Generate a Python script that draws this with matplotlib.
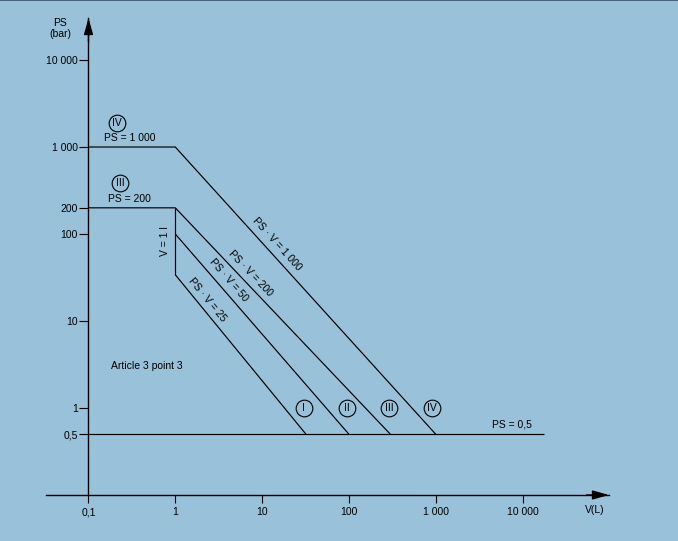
import numpy as np
import matplotlib
matplotlib.use('Agg')
import matplotlib.pyplot as plt
from matplotlib.transforms import offset_copy
from matplotlib.patches import Rectangle

plt.rcParams['font.family'] = ['Liberation Sans', 'DejaVu Sans']

# ---------------- data ----------------
x_ticks = [0.1, 1, 10, 100, 1000, 10000]
x_tick_labels = ['0,1', '1', '10', '100', '1 000', '10 000']
y_ticks = [0.5, 1, 10, 100, 200, 1000, 10000]
y_tick_labels = ['0,5', '1', '10', '100', '200', '1 000', '10 000']

cat_iv_v = [0.1, 1, 1000]
cat_iv_ps = [1000, 1000, 0.5]
cat_iii_v = [0.1, 1, 300]
cat_iii_ps = [200, 200, 0.5]
cat_ii_v = [1, 100]
cat_ii_ps = [100, 0.5]
cat_i_v = [1, 32]
cat_i_ps = [34, 0.5]
v1_line_v = [1, 1]
v1_line_ps = [200, 34]
ps_min_v = [0.1, 17500]
ps_min_ps = [0.5, 0.5]

diag_labels = ['PS · V = 1 000', 'PS · V = 200', 'PS · V = 50', 'PS · V = 25']
diag_anchor_v = [12.1, 6.2, 3.39, 1.94]

circle_labels = ['I', 'II', 'III', 'IV']
circle_v = [30, 96, 290, 900]
circle_ps = [1, 1, 1, 1]

# ---------------- figure ----------------
BG = '#9AC1DA'
W, H = 678, 541
fig = plt.figure(figsize=(W / 100, H / 100), dpi=100, facecolor=BG)
ax = fig.add_axes([46 / W, (H - 495) / H, 563 / W, 477 / H])
ax.set_facecolor(BG)
ax.set_xscale('log')
ax.set_yscale('log')
ax.set_xlim(10 ** -1.4896, 10 ** 4.9965)
ax.set_ylim(0.1, 10 ** 4.483)

for s in ['top', 'right']:
    ax.spines[s].set_visible(False)
ax.spines['left'].set_position(('data', 0.1))
ax.spines['left'].set_linewidth(1.0)
ax.spines['bottom'].set_linewidth(1.0)

ax.set_xticks(x_ticks, x_tick_labels)
ax.set_yticks(y_ticks, y_tick_labels)
ax.minorticks_off()
ax.tick_params(axis='x', direction='out', length=5.8, width=0.8, pad=3, labelsize=7.5)
ax.tick_params(axis='y', direction='out', length=6.8, width=0.8, pad=1, labelsize=7.5)

# arrow heads
arrow = dict(arrowstyle='-|>,head_length=1.0,head_width=0.28', color='k', lw=1.0,
             shrinkA=0, shrinkB=0, mutation_scale=10)
ax.annotate('', xy=(1, 0), xytext=(0.96, 0), xycoords='axes fraction', arrowprops=arrow,
            annotation_clip=False)
ax.annotate('', xy=(0.1, 1), xytext=(0.1, 0.95),
            xycoords=('data', 'axes fraction'), arrowprops=arrow, annotation_clip=False)

lw = 0.85
for vs, ps in [(cat_iv_v, cat_iv_ps), (cat_iii_v, cat_iii_ps), (cat_ii_v, cat_ii_ps),
               (cat_i_v, cat_i_ps), (v1_line_v, v1_line_ps), (ps_min_v, ps_min_ps)]:
    ax.plot(vs, ps, color='k', lw=lw, solid_capstyle='butt', clip_on=False)

FS = 7.5


def seg_angle(v0, p0, v1, p1):
    a = ax.transData.transform([(v0, p0), (v1, p1)])
    d = a[1] - a[0]
    return np.degrees(np.arctan2(d[1], d[0]))


diag_segs = [(cat_iv_v[-2:], cat_iv_ps[-2:]), (cat_iii_v[-2:], cat_iii_ps[-2:]),
             (cat_ii_v, cat_ii_ps), (cat_i_v, cat_i_ps)]
diag_off_px = [10.2, 9.5, 10.0, 8.5]
for lab, v, (vs, ps), dpx in zip(diag_labels, diag_anchor_v, diag_segs, diag_off_px):
    p = 10 ** np.interp(np.log10(v), np.log10(vs), np.log10(ps))
    ang = seg_angle(vs[0], ps[0], vs[1], ps[1])
    r = np.radians(ang)
    nx, ny = -np.sin(r), np.cos(r)
    d = dpx * 0.72
    ax.annotate(lab, xy=(v, p), xytext=(nx * d, ny * d), textcoords='offset points',
                rotation=ang, rotation_mode='anchor', ha='center', va='center', fontsize=FS)


def circled(label, v, p, dy_pt=0.0):
    tr = offset_copy(ax.transData, fig=fig, x=0, y=dy_pt, units='points')
    ax.plot([v], [p], 'o', ms=12, mfc='none', mec='k', mew=0.8, transform=tr, clip_on=False)
    ax.text(v, p, label, transform=tr, ha='center', va='center', fontsize=7.5)


for lab, v, p in zip(circle_labels, circle_v, circle_ps):
    circled(lab, v, p)

circled('IV', 0.213, 1000, 17.3)
circled('III', 0.231, 200, 18.0)

ax.annotate('PS = 1 000', xy=(0.30, 1000), xytext=(0, 6.5), textcoords='offset points',
            ha='center', va='center', fontsize=FS)
ax.annotate('PS = 200', xy=(0.30, 200), xytext=(0, 6.5), textcoords='offset points',
            ha='center', va='center', fontsize=FS)
ax.annotate('PS = 0,5', xy=(7570, 0.5), xytext=(0, 6.7), textcoords='offset points',
            ha='center', va='center', fontsize=FS)
ax.annotate('V = 1 l', xy=(1, np.sqrt(v1_line_ps[0] * v1_line_ps[1])), xytext=(-7.6, 0),
            textcoords='offset points', rotation=90, ha='center', va='center', fontsize=FS)
ax.text(0.18, 3.0, 'Article 3 point 3', ha='left', va='center', fontsize=FS)

fig.text(60 / W, 1 - 22.7 / H, 'PS', ha='center', va='center', fontsize=FS)
fig.text(60 / W, 1 - 34.3 / H, '(bar)', ha='center', va='center', fontsize=FS)
fig.text(595 / W, 1 - 510 / H, 'V(L)', ha='center', va='center', fontsize=FS)

fig.patches.append(Rectangle((0, 1 - 1.2 / H), 1, 1.2 / H, transform=fig.transFigure,
                             facecolor='#48627c', edgecolor='none'))

fig.savefig('out.png', dpi=100, facecolor=BG)
